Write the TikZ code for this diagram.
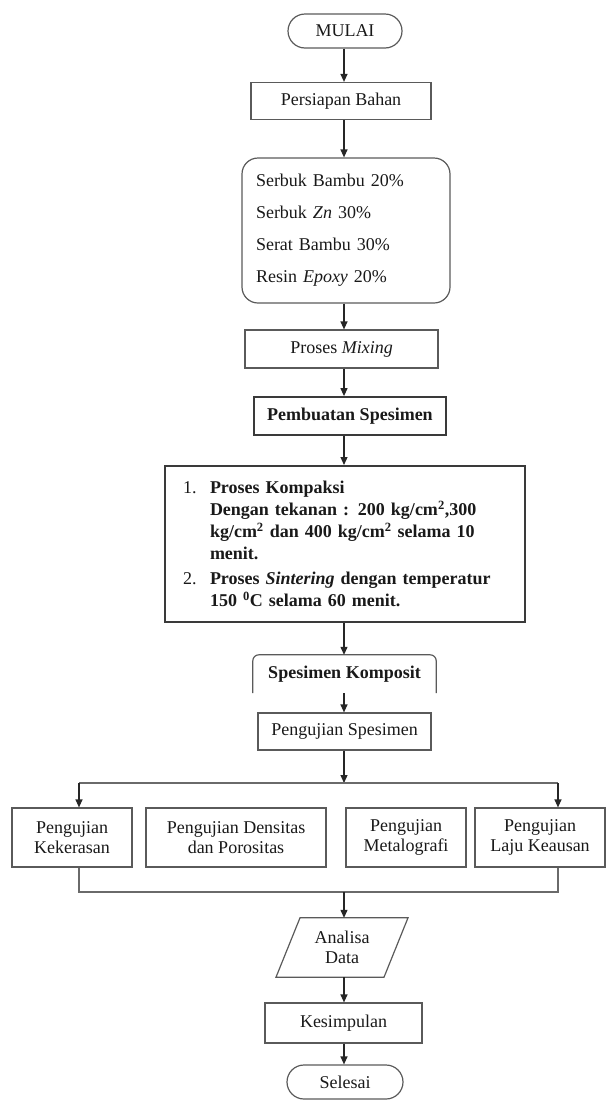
\documentclass[tikz,border=0pt]{standalone}
\usepackage{fontspec}
\setmainfont{Liberation Serif}
\usetikzlibrary{arrows.meta,shapes.misc,calc}
\definecolor{boxgray}{HTML}{5A5A5A}
\definecolor{linegray}{HTML}{6A6A6A}
\definecolor{darkline}{HTML}{3A3A3A}
\begin{document}
\begin{tikzpicture}[x=1pt,y=-1pt,
  every node/.style={font=\fontsize{18}{20}\selectfont, inner sep=0pt, align=center, text=black!90},
  box/.style={draw=boxgray, line width=1.2pt, minimum height=37pt},
  term/.style={draw=boxgray, line width=1.2pt, rounded rectangle, minimum height=34pt},
  arr/.style={-{Triangle[length=8pt,width=7pt]}, line width=1.2pt, draw=black!85},
  ln/.style={line width=1.2pt, draw=linegray}]
\useasboundingbox (0,0) rectangle (606,1101);
\coordinate (col) at (344,0);

\node[term, minimum width=114pt] (mulai) at (345,31) {MULAI};
\node[box, minimum width=180pt] (persiapan) at (341,101) {Persiapan Bahan};
\node[draw=boxgray, line width=1.2pt, rounded corners=16pt, minimum width=208pt, minimum height=145pt,
      text width=180pt, align=left, font=\fontsize{18}{32}\selectfont] (bahan) at (346,230.5)
      {Serbuk Bambu 20\%\\Serbuk \textit{Zn} 30\%\\Serat Bambu 30\%\\Resin \textit{Epoxy} 20\%};
\node[box, minimum width=193pt, minimum height=38pt] (mixing) at (341.5,349) {Proses \textit{Mixing}};
\node[box, draw=darkline, line width=1.8pt, minimum width=192pt, minimum height=38pt, font=\bfseries\fontsize{18}{20}\selectfont] (pembuatan) at (350,416) {Pembuatan Spesimen};
\node[draw=darkline, line width=2pt, minimum width=360pt, minimum height=156pt, text width=324pt, align=left,
      font=\bfseries\fontsize{18}{22}\selectfont] (proses) at (345,544)
      {\makebox[27pt][l]{\mdseries 1.}Proses Kompaksi\\
       \hspace*{27pt}Dengan tekanan : 200 kg/cm\textsuperscript{2},300\\
       \hspace*{27pt}kg/cm\textsuperscript{2} dan 400 kg/cm\textsuperscript{2} selama 10\\
       \hspace*{27pt}menit.\\[3pt]
       \makebox[27pt][l]{\mdseries 2.}Proses \textit{Sintering} dengan temperatur\\
       \hspace*{27pt}150 \textsuperscript{0}C selama 60 menit.};
\node[minimum width=183pt, minimum height=38pt, font=\bfseries\fontsize{18}{20}\selectfont] (komposit) at (344.5,674) {Spesimen Komposit};
\draw[draw=boxgray, line width=1.2pt, rounded corners=6pt] (komposit.south west) -- (komposit.north west) -- (komposit.north east) -- (komposit.south east);
\node[box, minimum width=173pt] (pengujian) at (344.5,731.5) {Pengujian Spesimen};

\node[box, minimum width=120pt, minimum height=59pt] (k1) at (72,837.5) {Pengujian\\Kekerasan};
\node[box, minimum width=180pt, minimum height=59pt] (k2) at (236,837.5) {Pengujian Densitas\\dan Porositas};
\node[box, minimum width=120pt, minimum height=59pt] (k3) at (406,837.5) {Pengujian\\Metalografi};
\node[box, minimum width=130pt, minimum height=59pt] (k4) at (540,837.5) {Pengujian\\Laju Keausan};

\node[minimum width=108pt, minimum height=59pt] (analisa) at (342,947.5) {Analisa\\Data};
\draw[draw=boxgray, line width=1.2pt] ([xshift=-42pt]analisa.north) -- ([xshift=66pt]analisa.north)
   -- ([xshift=42pt]analisa.south) -- ([xshift=-66pt]analisa.south) -- cycle;
\node[box, minimum width=157pt, minimum height=40pt] (kesimpulan) at (343.5,1023) {Kesimpulan};
\node[term, minimum width=116pt] (selesai) at (345,1082) {Selesai};

\draw[arr] (mulai.south -| col) -- (persiapan.north -| col);
\draw[arr] (persiapan.south -| col) -- (bahan.north -| col);
\draw[arr] (bahan.south -| col) -- (mixing.north -| col);
\draw[arr] (mixing.south -| col) -- (pembuatan.north -| col);
\draw[arr] (pembuatan.south -| col) -- (proses.north -| col);
\draw[arr] (proses.south -| col) -- (komposit.north -| col);
\draw[arr] (komposit.south -| col) -- (pengujian.north -| col);

\coordinate (sp) at (344,783);
\coordinate (spL) at (79,783);
\coordinate (spR) at (558,783);
\draw[arr] (pengujian.south -| col) -- (sp);
\draw[ln] (spL) -- (spR);
\draw[arr] (spL) -- (spL |- k1.north);
\draw[arr] (spR) -- (spR |- k4.north);

\coordinate (jn) at (344,892);
\coordinate (jL) at (79,892);
\coordinate (jR) at (558,892);
\draw[ln] (k1.south -| jL) -- (jL) -- (jR) -- (k4.south -| jR);
\draw[arr] (jn) -- (analisa.north -| col);
\draw[arr] (analisa.south -| col) -- (kesimpulan.north -| col);
\draw[arr] (kesimpulan.south -| col) -- (selesai.north -| col);
\end{tikzpicture}
\end{document}
